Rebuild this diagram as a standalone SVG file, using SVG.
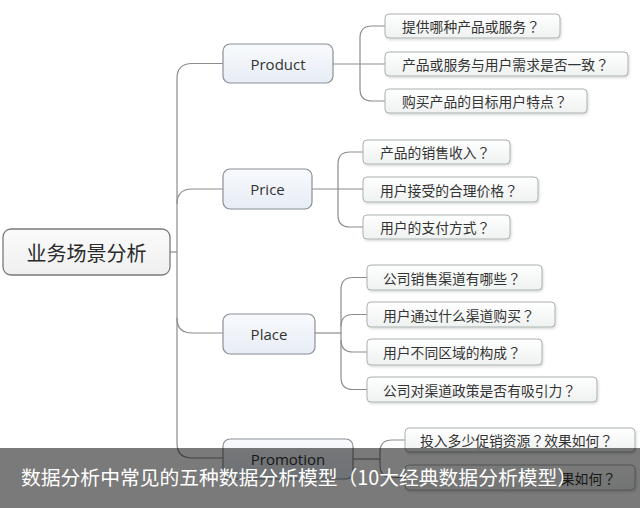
<svg xmlns="http://www.w3.org/2000/svg" width="640" height="508" viewBox="0 0 640 508">
<defs>
<linearGradient id="gNode" x1="0" y1="0" x2="0" y2="1"><stop offset="0" stop-color="#f8fafd"/><stop offset="1" stop-color="#e7edf5"/></linearGradient>
<linearGradient id="gRoot" x1="0" y1="0" x2="0" y2="1"><stop offset="0" stop-color="#fbfbfb"/><stop offset="1" stop-color="#efefef"/></linearGradient>
<linearGradient id="gLeaf" x1="0" y1="0" x2="0" y2="1"><stop offset="0" stop-color="#ffffff"/><stop offset="1" stop-color="#eef2f0"/></linearGradient>
<filter id="sh" x="-5%" y="-20%" width="110%" height="150%"><feDropShadow dx="1" dy="1.5" stdDeviation="1" flood-color="#000" flood-opacity="0.15"/></filter>
</defs>
<style>
.root{fill:url(#gRoot);stroke:#7a7a7a;stroke-width:1.3}
.node{fill:url(#gNode);stroke:#8a8f96;stroke-width:1.2}
.leaf{fill:url(#gLeaf);stroke:#aab2b0;stroke-width:1;filter:url(#sh)}
.con{fill:none;stroke:#8c8c8c;stroke-width:1.2}
.tr{font-family:"Noto Sans CJK SC",sans-serif;font-size:20px;fill:#2a2a2a;text-anchor:middle;dominant-baseline:central}
.tn{font-family:"Open Sans","Noto Sans",sans-serif;font-size:15px;fill:#333;text-anchor:middle;dominant-baseline:central}
.tl{font-family:"Noto Sans CJK SC",sans-serif;font-size:13.8px;fill:#333;dominant-baseline:central}
.q{font-family:"Noto Sans CJK JP","Noto Sans CJK SC",sans-serif}
.ban{font-family:"Noto Sans CJK SC",sans-serif;font-size:19.8px;fill:#fff}
</style>
<rect width="640" height="508" fill="#fff"/>
<g id="connectors">
<path class="con" d="M170 252 H177"/>
<path class="con" d="M223 63.5 H192 Q177 63.5 177 78.5 V443 Q177 458 192 458 H223"/>
<path class="con" d="M177 204 Q177 189 192 189 H223"/>
<path class="con" d="M177 318 Q177 333 192 333 H223"/>
<path class="con" d="M333 64 H385"/>
<path class="con" d="M385 26 H372 Q360 26 360 38 V89 Q360 101 372 101 H385"/>
<path class="con" d="M312 189 H363"/>
<path class="con" d="M363 152 H350 Q338 152 338 164 V215 Q338 227 350 227 H363"/>
<path class="con" d="M315 333 H341"/>
<path class="con" d="M367 277.5 H353 Q341 277.5 341 289.5 V377.5 Q341 389.5 353 389.5 H367"/>
<path class="con" d="M341 326.5 Q341 314.5 353 314.5 H367"/>
<path class="con" d="M341 340 Q341 352 353 352 H367"/>
<path class="con" d="M353 459 H380"/>
<path class="con" d="M405 440 H392 Q380 440 380 452 V465.5 Q380 477.5 392 477.5 H405"/>
</g>
<g id="root"><rect class="root" x="3" y="229" width="167" height="46" rx="8"/><text class="tr" x="86.5" y="252">业务场景分析</text></g>
<g id="product"><rect class="node" x="223" y="44" width="110" height="39" rx="7"/><text class="tn" x="278" y="63.5">Product</text></g>
<g id="price"><rect class="node" x="223" y="169" width="89" height="40" rx="7"/><text class="tn" x="267.5" y="189">Price</text></g>
<g id="place"><rect class="node" x="223" y="314" width="92" height="40" rx="7"/><text class="tn" x="269" y="334">Place</text></g>
<g id="promotion"><rect class="node" x="223" y="439" width="130" height="40" rx="7"/><text class="tn" x="288" y="459">Promotion</text></g>
<g id="leaf-p1"><rect class="leaf" x="385" y="14" width="175" height="24" rx="4"/><text class="tl" x="402" y="26">提供哪种产品或服务<tspan class="q">？</tspan></text></g>
<g id="leaf-p2"><rect class="leaf" x="385" y="52" width="243" height="24" rx="4"/><text class="tl" x="402" y="64">产品或服务与用户需求是否一致<tspan class="q">？</tspan></text></g>
<g id="leaf-p3"><rect class="leaf" x="385" y="89" width="202" height="24" rx="4"/><text class="tl" x="402" y="101">购买产品的目标用户特点<tspan class="q">？</tspan></text></g>
<g id="leaf-pr1"><rect class="leaf" x="363" y="140" width="147" height="24" rx="4"/><text class="tl" x="380" y="152">产品的销售收入<tspan class="q">？</tspan></text></g>
<g id="leaf-pr2"><rect class="leaf" x="363" y="177" width="175" height="25" rx="4"/><text class="tl" x="380" y="189.5">用户接受的合理价格<tspan class="q">？</tspan></text></g>
<g id="leaf-pr3"><rect class="leaf" x="363" y="215" width="147" height="24" rx="4"/><text class="tl" x="380" y="227">用户的支付方式<tspan class="q">？</tspan></text></g>
<g id="leaf-pl1"><rect class="leaf" x="367" y="265" width="175" height="25" rx="4"/><text class="tl" x="383" y="277.5">公司销售渠道有哪些<tspan class="q">？</tspan></text></g>
<g id="leaf-pl2"><rect class="leaf" x="367" y="302" width="188" height="25" rx="4"/><text class="tl" x="383" y="314.5">用户通过什么渠道购买<tspan class="q">？</tspan></text></g>
<g id="leaf-pl3"><rect class="leaf" x="367" y="339" width="175" height="26" rx="4"/><text class="tl" x="383" y="352">用户不同区域的构成<tspan class="q">？</tspan></text></g>
<g id="leaf-pl4"><rect class="leaf" x="367" y="377" width="230" height="25" rx="4"/><text class="tl" x="383" y="389.5">公司对渠道政策是否有吸引力<tspan class="q">？</tspan></text></g>
<g id="leaf-pm1"><rect class="leaf" x="405" y="428" width="230" height="24" rx="4"/><text class="tl" x="420" y="440">投入多少促销资源<tspan class="q">？</tspan>效果如何<tspan class="q">？</tspan></text></g>
<g id="leaf-pm2"><rect class="leaf" x="405" y="465" width="230" height="25" rx="4"/><text class="tl" x="616" y="477.5" text-anchor="end">果如何<tspan class="q">？</tspan></text></g>
<g id="banner"><rect x="0" y="448" width="640" height="60" fill="#000" fill-opacity="0.52"/><text class="ban" x="21" y="485">数据分析中常见的五种数据分析模型（10大经典数据分析模型）</text></g>
</svg>
